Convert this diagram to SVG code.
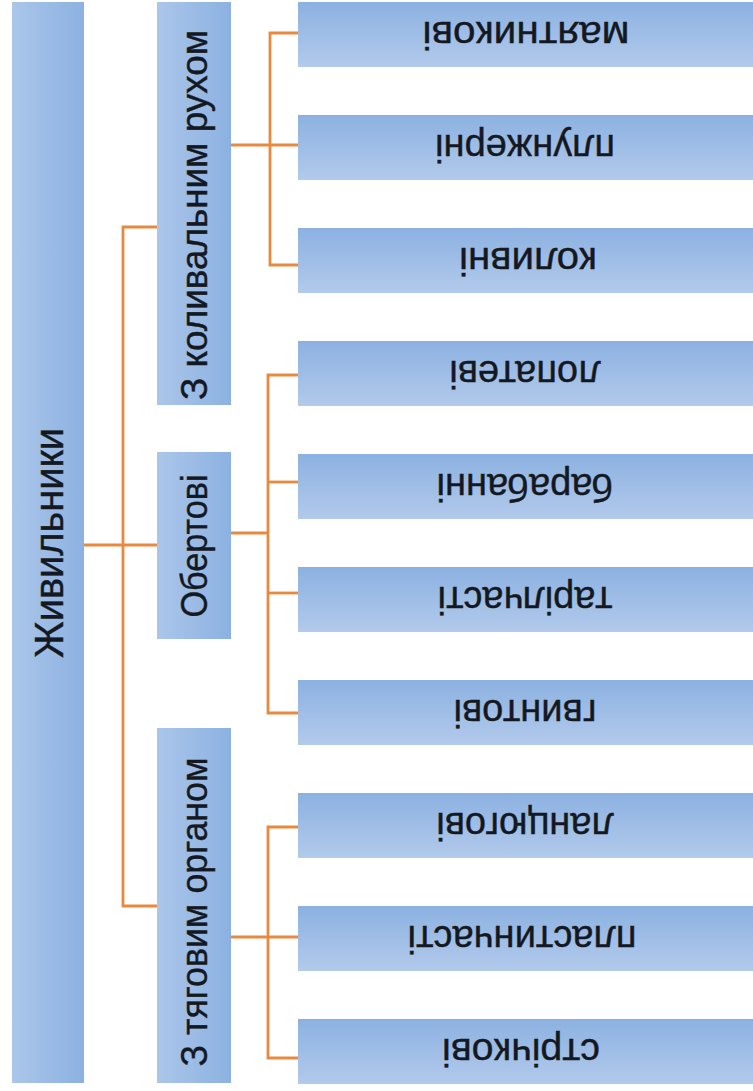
<svg xmlns="http://www.w3.org/2000/svg" width="753" height="1091" viewBox="0 0 753 1091">
  <defs>
    <!-- upright boxes: light on the left, deeper blue on the right -->
    <linearGradient id="gH" x1="0" y1="0" x2="1" y2="0">
      <stop offset="0" stop-color="#abc6ea"/>
      <stop offset="1" stop-color="#8cb1e1"/>
    </linearGradient>
    <!-- leaf boxes: deeper blue at the top, light at the bottom -->
    <linearGradient id="gV" x1="0" y1="0" x2="0" y2="1">
      <stop offset="0" stop-color="#8cb1e1"/>
      <stop offset="1" stop-color="#b2caeb"/>
    </linearGradient>
    <style>
      .col { fill: url(#gH); }
      .leaf { fill: url(#gV); }
      .t { font-family: "Liberation Sans", Arial, sans-serif; fill: #141821; stroke: #141821; stroke-width: 0.4; text-anchor: middle; }
      .t0 { font-size: 40px; }
      .t1 { font-size: 36px; }
      .t2 { font-size: 38px; }
      .ln { fill: none; stroke: #e8893f; stroke-width: 2.8; }
    </style>
  </defs>
  <rect width="753" height="1091" fill="#ffffff"/>

  <!-- connectors -->
  <g id="connectors" class="ln">
    <path d="M84,545 H157"/>
    <path d="M157,227 H123 V906 H157"/>
    <path d="M231,145 H298"/>
    <path d="M298,33 H270 V265 H298"/>
    <path d="M231,533 H268"/>
    <path d="M298,375 H268 V713 H298"/>
    <path d="M268,482 H298"/>
    <path d="M268,593 H298"/>
    <path d="M231,937 H298"/>
    <path d="M298,827 H268 V1058 H298"/>
  </g>

  <!-- root -->
  <g id="root">
    <rect class="col" x="12" y="2" width="72" height="1081"/>
    <text class="t t0" transform="translate(63,543) rotate(-90)" textLength="230" lengthAdjust="spacingAndGlyphs">Живильники</text>
  </g>

  <!-- second level -->
  <g id="oscillating">
    <rect class="col" x="157" y="2" width="74" height="403"/>
    <text class="t t1" transform="translate(207,215) rotate(-90)" textLength="370" lengthAdjust="spacingAndGlyphs">З коливальним рухом</text>
  </g>
  <g id="rotary">
    <rect class="col" x="157" y="452" width="74" height="187"/>
    <text class="t t1" transform="translate(207,546) rotate(-90)" textLength="143" lengthAdjust="spacingAndGlyphs">Обертові</text>
  </g>
  <g id="traction">
    <rect class="col" x="157" y="728" width="74" height="355"/>
    <text class="t t1" transform="translate(207,912) rotate(-90)" textLength="309" lengthAdjust="spacingAndGlyphs">З тяговим органом</text>
  </g>

  <!-- leaves -->
  <g id="leaf-pendulum">
    <rect class="leaf" x="298" y="2" width="455" height="65"/>
    <text class="t t2" transform="translate(526,22) rotate(180)" textLength="207" lengthAdjust="spacingAndGlyphs">маятникові</text>
  </g>
  <g id="leaf-plunger">
    <rect class="leaf" x="298" y="115" width="455" height="65"/>
    <text class="t t2" transform="translate(525,135) rotate(180)">плунжерні</text>
  </g>
  <g id="leaf-swing">
    <rect class="leaf" x="298" y="228" width="455" height="65"/>
    <text class="t t2" transform="translate(528,248) rotate(180)" textLength="138" lengthAdjust="spacingAndGlyphs">коливні</text>
  </g>
  <g id="leaf-paddle">
    <rect class="leaf" x="298" y="341" width="455" height="65"/>
    <text class="t t2" transform="translate(525,361) rotate(180)">лопатеві</text>
  </g>
  <g id="leaf-drum">
    <rect class="leaf" x="298" y="454" width="455" height="65"/>
    <text class="t t2" transform="translate(525,474) rotate(180)">барабанні</text>
  </g>
  <g id="leaf-disc">
    <rect class="leaf" x="298" y="567" width="455" height="65"/>
    <text class="t t2" transform="translate(525,587) rotate(180)">тарілчасті</text>
  </g>
  <g id="leaf-screw">
    <rect class="leaf" x="298" y="680" width="455" height="65"/>
    <text class="t t2" transform="translate(525,700) rotate(180)">гвинтові</text>
  </g>
  <g id="leaf-chain">
    <rect class="leaf" x="298" y="793" width="455" height="65"/>
    <text class="t t2" transform="translate(525,813) rotate(180)">ланцюгові</text>
  </g>
  <g id="leaf-plate">
    <rect class="leaf" x="298" y="906" width="455" height="65"/>
    <text class="t t2" transform="translate(522,926) rotate(180)" textLength="229" lengthAdjust="spacingAndGlyphs">пластинчасті</text>
  </g>
  <g id="leaf-belt">
    <rect class="leaf" x="298" y="1019" width="455" height="65"/>
    <text class="t t2" transform="translate(521,1039) rotate(180)" textLength="158" lengthAdjust="spacingAndGlyphs">стрічкові</text>
  </g>
</svg>
